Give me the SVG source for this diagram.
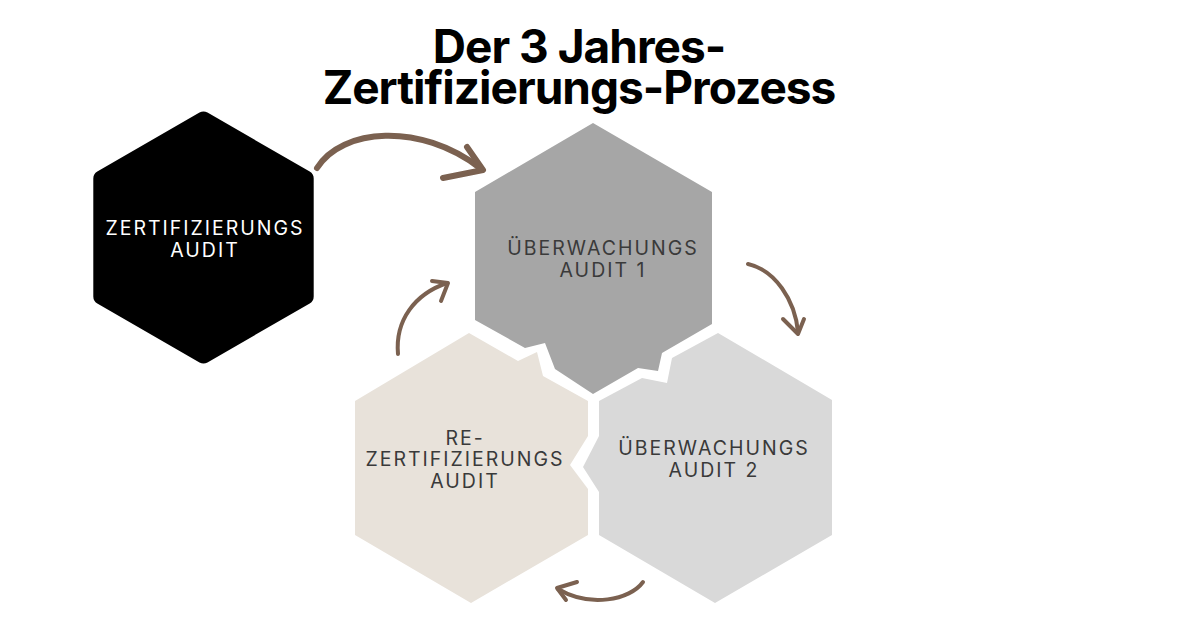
<svg xmlns="http://www.w3.org/2000/svg" width="1200" height="628" viewBox="0 0 1200 628">
<style>
.title{font-family:Inter,"Liberation Sans",sans-serif;font-weight:700;font-size:46px;letter-spacing:-1px;fill:#000;text-anchor:middle}
.lbl{font-family:Inter,"Liberation Sans",sans-serif;font-size:19.5px;letter-spacing:2px;text-anchor:middle;fill:#3a3a3a}
.lblw{fill:#fff}
.arr{fill:none;stroke:#7b6150;stroke-linecap:round;stroke-linejoin:round}
</style>
<rect width="1200" height="628" fill="#fff"/>
<g id="title">
<text class="title" x="579" y="63">Der 3 Jahres-</text>
<text class="title" x="579" y="104">Zertifizierungs-Prozess</text>
</g>
<g id="node-zertifizierungsaudit">
<polygon points="203.5,119.5 305.7,178.5 305.7,296.5 203.5,355.5 101.3,296.5 101.3,178.5" fill="#000" stroke="#000" stroke-width="16" stroke-linejoin="round"/>
<text class="lbl lblw" x="205" y="235">ZERTIFIZIERUNGS</text>
<text class="lbl lblw" x="205" y="257">AUDIT</text>
</g>
<g id="node-rezertifizierung">
<polygon points="469,333 518,361 537,352 543,376 588,401 588,436 570,465 588,489 588,535 471,603 355,535 355,401" fill="#e8e2da"/>
<text class="lbl" x="465" y="445">RE-</text>
<text class="lbl" x="465" y="466">ZERTIFIZIERUNGS</text>
<text class="lbl" x="465" y="488">AUDIT</text>
</g>
<g id="node-ueberwachung2">
<polygon points="718,333 832,400 832,535 715,603 599,535 599,492 583,467 599,436 599,401 642,378 667,383 672,358" fill="#d9d9d9"/>
<text class="lbl" x="714" y="455">ÜBERWACHUNGS</text>
<text class="lbl" x="714" y="477">AUDIT 2</text>
</g>
<g id="node-ueberwachung1">
<polygon points="593,123 712,192 712,324 662,353 658,371 638,368 593,394 555,369 545,343 525,348 475,320 475,192" fill="#a6a6a6"/>
<text class="lbl" x="603" y="255">ÜBERWACHUNGS</text>
<text class="lbl" x="603" y="277">AUDIT 1</text>
</g>
<g id="connectors">
<path class="arr" stroke-width="6" d="M317,168 C342,128 420,122 480,168"/>
<path class="arr" stroke-width="6" d="M467,147 L483,170 L443,178"/>
<path class="arr" stroke-width="4" d="M398,354 C395,320 415,294 447,283"/>
<path class="arr" stroke-width="4" d="M432,281 L448,283 L441,301"/>
<path class="arr" stroke-width="4" d="M748,264 C775,270 795,300 798,332"/>
<path class="arr" stroke-width="4" d="M783,319 L798,334 L804,319"/>
<path class="arr" stroke-width="4" d="M643,582 C630,600 590,608 558,589"/>
<path class="arr" stroke-width="4" d="M577,582 L557,588 L566,600"/>
</g>
</svg>
